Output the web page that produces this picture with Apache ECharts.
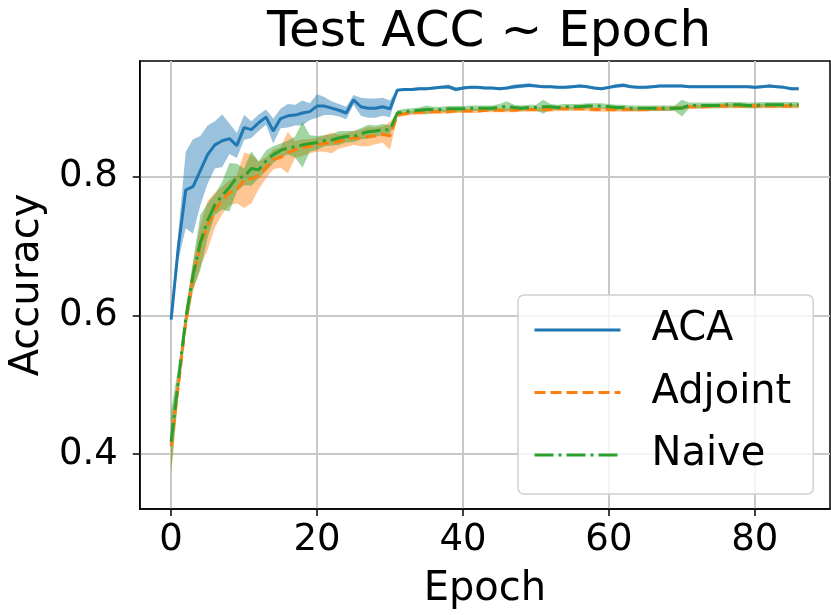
<!DOCTYPE html>
<html>
<head>
<meta charset="utf-8">
<script src="https://cdn.jsdelivr.net/npm/echarts@6/dist/echarts.min.js"></script>
<style>
  html, body { margin: 0; padding: 0; background: #fff; }
  #main { width: 831px; height: 615px; }
</style>
</head>
<body>
<div id="main"></div>
<script>
// mean accuracy per epoch (0..86)
let acaMean = [
  0.594, 0.700, 0.781, 0.786, 0.809, 0.832, 0.846, 0.852, 0.855, 0.845,
  0.871, 0.868, 0.878, 0.886, 0.866, 0.884, 0.888, 0.889, 0.892, 0.894,
  0.902, 0.902, 0.899, 0.896, 0.892, 0.911, 0.901, 0.899, 0.899, 0.901,
  0.898, 0.925, 0.926, 0.926, 0.927, 0.927, 0.928, 0.929, 0.930, 0.926,
  0.928, 0.929, 0.929, 0.928, 0.928, 0.927, 0.928, 0.930, 0.931, 0.932,
  0.931, 0.930, 0.930, 0.929, 0.929, 0.930, 0.931, 0.930, 0.928, 0.927,
  0.929, 0.931, 0.932, 0.930, 0.929, 0.929, 0.930, 0.931, 0.931, 0.931,
  0.931, 0.930, 0.930, 0.930, 0.930, 0.930, 0.930, 0.930, 0.930, 0.930,
  0.929, 0.930, 0.931, 0.930, 0.929, 0.927, 0.927
];
let acaStd = [
  0.004, 0.020, 0.055, 0.068, 0.050, 0.042, 0.034, 0.038, 0.022, 0.018,
  0.018, 0.012, 0.012, 0.011, 0.018, 0.014, 0.017, 0.015, 0.018, 0.012,
  0.017, 0.013, 0.010, 0.009, 0.009, 0.007, 0.013, 0.014, 0.014, 0.013,
  0.012, 0.002, 0.002, 0.002, 0.002, 0.002, 0.002, 0.002, 0.003, 0.003,
  0.002, 0.002, 0.002, 0.002, 0.002, 0.002, 0.002, 0.003, 0.003, 0.003,
  0.002, 0.002, 0.002, 0.002, 0.002, 0.002, 0.002, 0.002, 0.002, 0.002,
  0.002, 0.003, 0.003, 0.002, 0.002, 0.002, 0.002, 0.002, 0.002, 0.002,
  0.002, 0.002, 0.002, 0.002, 0.002, 0.002, 0.002, 0.002, 0.002, 0.002,
  0.002, 0.002, 0.002, 0.002, 0.002, 0.002, 0.002
];
let adjMean = [
  0.412, 0.500, 0.590, 0.655, 0.700, 0.730, 0.752, 0.766, 0.777, 0.782,
  0.795, 0.797, 0.802, 0.813, 0.825, 0.828, 0.835, 0.839, 0.842, 0.844,
  0.846, 0.848, 0.849, 0.851, 0.853, 0.856, 0.856, 0.858, 0.859, 0.861,
  0.859, 0.889, 0.891, 0.892, 0.893, 0.893, 0.894, 0.894, 0.894, 0.895,
  0.895, 0.895, 0.895, 0.896, 0.896, 0.896, 0.896, 0.896, 0.897, 0.897,
  0.897, 0.897, 0.897, 0.898, 0.898, 0.898, 0.898, 0.898, 0.897, 0.897,
  0.897, 0.897, 0.897, 0.897, 0.897, 0.897, 0.898, 0.898, 0.898, 0.899,
  0.900, 0.901, 0.901, 0.901, 0.902, 0.902, 0.902, 0.902, 0.902, 0.902,
  0.902, 0.902, 0.902, 0.902, 0.902, 0.902, 0.902
];
let adjStd = [
  0.040, 0.015, 0.015, 0.020, 0.030, 0.035, 0.025, 0.020, 0.018, 0.020,
  0.040, 0.035, 0.020, 0.015, 0.014, 0.015, 0.030, 0.012, 0.012, 0.010,
  0.010, 0.012, 0.015, 0.010, 0.010, 0.010, 0.012, 0.014, 0.012, 0.012,
  0.020, 0.003, 0.003, 0.003, 0.003, 0.003, 0.003, 0.003, 0.003, 0.003,
  0.003, 0.003, 0.003, 0.003, 0.003, 0.003, 0.003, 0.003, 0.003, 0.003,
  0.003, 0.003, 0.003, 0.003, 0.003, 0.003, 0.003, 0.003, 0.003, 0.003,
  0.003, 0.003, 0.003, 0.003, 0.003, 0.003, 0.003, 0.003, 0.003, 0.003,
  0.003, 0.003, 0.003, 0.003, 0.003, 0.003, 0.003, 0.003, 0.003, 0.003,
  0.003, 0.003, 0.003, 0.003, 0.003, 0.003, 0.003
];
let naiMean = [
  0.418, 0.507, 0.595, 0.658, 0.705, 0.737, 0.760, 0.773, 0.785, 0.799,
  0.800, 0.812, 0.810, 0.823, 0.832, 0.838, 0.842, 0.843, 0.846, 0.848,
  0.849, 0.852, 0.853, 0.856, 0.858, 0.858, 0.862, 0.865, 0.866, 0.868,
  0.868, 0.892, 0.894, 0.895, 0.896, 0.897, 0.897, 0.897, 0.898, 0.898,
  0.898, 0.899, 0.899, 0.899, 0.899, 0.900, 0.902, 0.900, 0.899, 0.900,
  0.900, 0.901, 0.901, 0.900, 0.901, 0.901, 0.901, 0.902, 0.902, 0.902,
  0.901, 0.900, 0.900, 0.899, 0.899, 0.899, 0.899, 0.899, 0.899, 0.899,
  0.899, 0.903, 0.903, 0.903, 0.903, 0.903, 0.904, 0.904, 0.904, 0.903,
  0.903, 0.904, 0.904, 0.904, 0.904, 0.904, 0.904
];
let naiStd = [
  0.045, 0.020, 0.015, 0.020, 0.040, 0.025, 0.015, 0.020, 0.035, 0.020,
  0.012, 0.025, 0.012, 0.015, 0.012, 0.010, 0.010, 0.015, 0.033, 0.012,
  0.010, 0.008, 0.008, 0.010, 0.008, 0.008, 0.008, 0.010, 0.008, 0.008,
  0.006, 0.004, 0.004, 0.004, 0.004, 0.006, 0.004, 0.004, 0.004, 0.004,
  0.004, 0.004, 0.004, 0.004, 0.004, 0.005, 0.007, 0.004, 0.004, 0.004,
  0.004, 0.010, 0.004, 0.004, 0.004, 0.004, 0.004, 0.004, 0.004, 0.004,
  0.004, 0.004, 0.004, 0.004, 0.004, 0.004, 0.004, 0.004, 0.004, 0.004,
  0.012, 0.004, 0.004, 0.004, 0.004, 0.004, 0.004, 0.004, 0.004, 0.004,
  0.004, 0.004, 0.004, 0.004, 0.004, 0.004, 0.004
];
let xTicks = [0, 20, 40, 60, 80];
let yTicks = [0.4, 0.6, 0.8];

const FONT = 'DejaVu Sans';

function pts(arr) {
  return arr.map(function (v, i) { return [i, v]; });
}
// mean +/- std band drawn as one polygon through the axis scales
function band(mean, std, color) {
  return {
    type: 'custom',
    silent: true,
    data: [[0, mean[0]]],
    renderItem: function (params, api) {
      let points = [];
      for (let i = 0; i < mean.length; i++) {
        points.push(api.coord([i, mean[i] + std[i]]));
      }
      for (let i = mean.length - 1; i >= 0; i--) {
        points.push(api.coord([i, mean[i] - std[i]]));
      }
      return {
        type: 'polygon',
        shape: { points: points },
        style: { fill: color, stroke: null }
      };
    }
  };
}

let series = [
  band(acaMean, acaStd, 'rgba(31,119,180,0.45)'),
  {
    name: 'ACA', type: 'line', data: pts(acaMean), symbol: 'none',
    lineStyle: { color: '#1f77b4', width: 3 }, itemStyle: { color: '#1f77b4' }
  },
  band(adjMean, adjStd, 'rgba(255,127,14,0.45)'),
  {
    name: 'Adjoint', type: 'line', data: pts(adjMean), symbol: 'none',
    lineStyle: { color: '#ff7f0e', width: 3, type: [11, 5] }, itemStyle: { color: '#ff7f0e' }
  },
  band(naiMean, naiStd, 'rgba(44,160,44,0.45)'),
  {
    name: 'Naive', type: 'line', data: pts(naiMean), symbol: 'none',
    lineStyle: { color: '#2ca02c', width: 3, type: [19, 5, 3, 5] }, itemStyle: { color: '#2ca02c' }
  }
];

let option = {
  animation: false,
  backgroundColor: '#fff',
  textStyle: { fontFamily: FONT },
  title: {
    text: 'Test ACC ~ Epoch',
    left: 262, top: 3,
    textStyle: { fontFamily: FONT, fontSize: 50, fontWeight: 'normal', color: '#000' }
  },
  grid: {
    left: 139, right: 1, top: 61, bottom: 104,
    show: true, borderColor: '#000', borderWidth: 1.5, backgroundColor: 'transparent'
  },
  legend: {
    data: ['ACA', 'Adjoint', 'Naive'],
    orient: 'vertical',
    left: 518, top: 295,
    padding: [15, 22, 19, 15],
    itemWidth: 86, itemHeight: 14,
    itemGap: 22.5,
    itemStyle: { opacity: 0 },
    lineStyle: { width: 3 },
    backgroundColor: 'rgba(255,255,255,0.8)',
    borderColor: '#d0d0d0', borderWidth: 1.5, borderRadius: 6,
    textStyle: { fontFamily: FONT, fontSize: 40, color: '#000', lineHeight: 40, padding: [0, 0, 0, 26] }
  },
  xAxis: {
    type: 'value',
    min: -4.3, max: 90.3,
    minInterval: 20, maxInterval: 20,
    name: 'Epoch', nameLocation: 'middle', nameGap: 61,
    nameTextStyle: { fontFamily: FONT, fontSize: 40, color: '#000' },
    axisLine: { show: true, onZero: false, lineStyle: { color: '#000', width: 1.5 } },
    axisTick: { show: true, length: 7, lineStyle: { color: '#000', width: 1.5 }, customValues: xTicks },
    axisLabel: {
      fontFamily: FONT, fontSize: 37, color: '#000', margin: 13,
      customValues: xTicks
    },
    splitLine: { show: true, lineStyle: { color: '#c8c8c8', width: 2 } }
  },
  yAxis: {
    type: 'value',
    min: 0.321, max: 0.967,
    minInterval: 0.2, maxInterval: 0.2,
    name: 'Accuracy', nameLocation: 'middle', nameGap: 90,
    nameTextStyle: { fontFamily: FONT, fontSize: 40, color: '#000' },
    axisLine: { show: true, onZero: false, lineStyle: { color: '#000', width: 1.5 } },
    axisTick: { show: true, length: 7, lineStyle: { color: '#000', width: 1.5 }, customValues: yTicks },
    axisLabel: {
      fontFamily: FONT, fontSize: 37, color: '#000', margin: 22,
      customValues: yTicks,
      formatter: function (v) { return v.toFixed(1); }
    },
    splitLine: { show: true, lineStyle: { color: '#c8c8c8', width: 2 } }
  },
  series: series
};

let myChart = echarts.init(document.getElementById('main'));
myChart.setOption(option);
</script>
</body>
</html>
